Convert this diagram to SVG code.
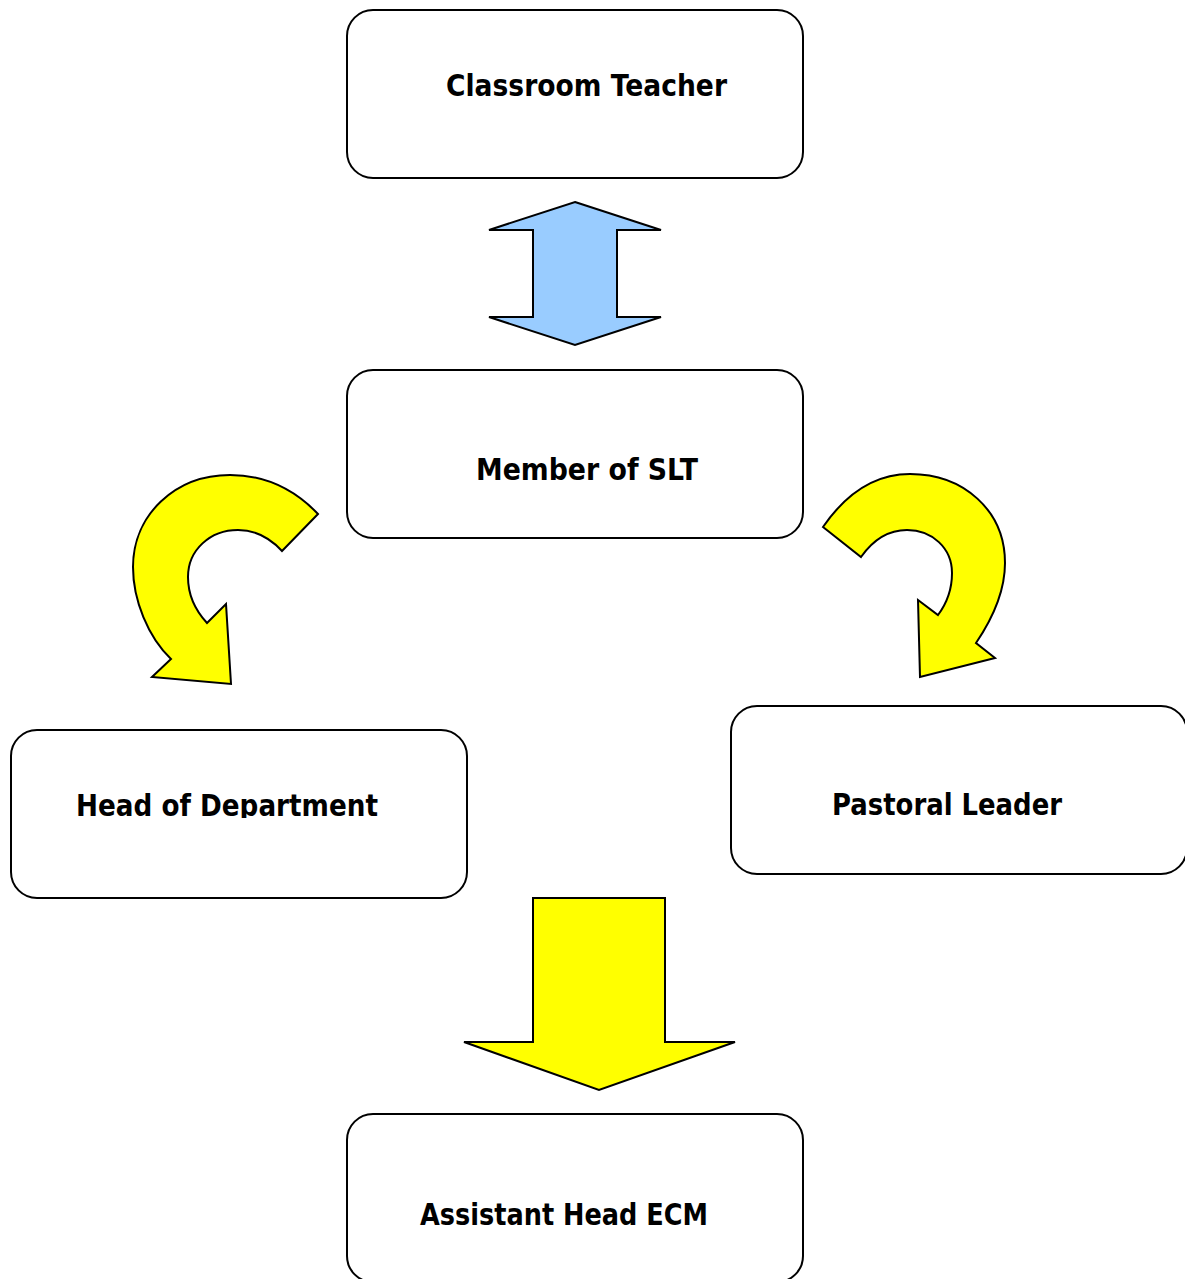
<svg xmlns="http://www.w3.org/2000/svg" width="1185" height="1279" viewBox="0 0 1185 1279">
<style>
.box{fill:#fff;stroke:#000;stroke-width:2}
.lbl{font-family:"DejaVu Sans",Verdana,sans-serif;font-weight:bold;font-size:31px;fill:#000}
.yel{fill:#ffff00;stroke:#000;stroke-width:2;stroke-linejoin:miter}
.blu{fill:#99ccff;stroke:#000;stroke-width:2}
</style>
<defs>
<clipPath id="clipHod"><rect x="0" y="700" width="500" height="118"/></clipPath>
</defs>
<rect width="1185" height="1279" fill="#fff"/>
<g id="connectors">
<polygon class="blu" points="575,202 661,230 617,230 617,317 661,317 575,345 489,317 533,317 533,230 489,230"/>
<path class="yel" d="M318,514 L282,551 C270,538 255,530 238,530 C210,530 188,550 188,577 C188,595 195,610 207,623 L226,604 L231,684 L152,677 L171,659 C148,637 133,600 133,567 C133,515 175,475 230,475 C265,475 295,490 318,514 Z"/>
<path class="yel" d="M823,527 L861,557 C873,540 888,530 907,530 C932,530 952,548 952,573 C952,590 947,603 938,615 L918,600 L920,677 L995,658 L976,643 C995,615 1005,590 1005,563 C1005,510 963,474 910,474 C873,474 845,495 823,527 Z"/>
<polygon class="yel" points="533,898 665,898 665,1042 735,1042 599,1090 464,1042 533,1042"/>
</g>
<g id="classroom-teacher">
<rect class="box" x="347" y="10" width="456" height="168" rx="26"/>
<text class="lbl" x="446" y="96" textLength="281" lengthAdjust="spacingAndGlyphs">Classroom Teacher</text>
</g>
<g id="member-slt">
<rect class="box" x="347" y="370" width="456" height="168" rx="26"/>
<text class="lbl" x="476" y="480" textLength="222" lengthAdjust="spacingAndGlyphs">Member of SLT</text>
</g>
<g id="head-of-department">
<rect class="box" x="11" y="730" width="456" height="168" rx="26"/>
<text class="lbl" x="76" y="816" textLength="302" lengthAdjust="spacingAndGlyphs" clip-path="url(#clipHod)">Head of Department</text>
</g>
<g id="pastoral-leader">
<rect class="box" x="731" y="706" width="456" height="168" rx="26"/>
<text class="lbl" x="832" y="815" textLength="230" lengthAdjust="spacingAndGlyphs">Pastoral Leader</text>
</g>
<g id="assistant-head-ecm">
<rect class="box" x="347" y="1114" width="456" height="168" rx="26"/>
<text class="lbl" x="420" y="1225" textLength="288" lengthAdjust="spacingAndGlyphs">Assistant Head ECM</text>
</g>
</svg>
